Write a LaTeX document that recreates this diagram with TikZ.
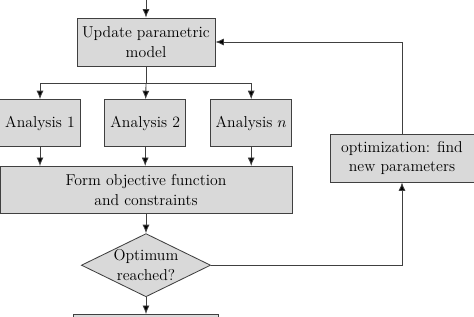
\documentclass[tikz,border=0pt]{standalone}
\usepackage{amsmath}
\usetikzlibrary{arrows.meta, positioning, shapes.geometric}

\begin{document}
\begin{tikzpicture}[
  every node/.style={font=\fontsize{11.2}{13.8}\selectfont},
  bx/.style={draw=black!75, line width=0.6pt, fill=black!15, align=center, inner sep=2pt},
  dm/.style={diamond, aspect=2, draw=black!75, line width=0.6pt, fill=black!15, align=center, inner sep=-2pt, minimum width=3.23cm, minimum height=1.58cm},
  a/.style={-{Latex[length=6pt,width=5pt,fill=black]}, draw=black!75, line width=0.6pt},
  l/.style={draw=black!75, line width=0.6pt}]
\useasboundingbox (0,0) rectangle (11.85,-7.9);
\coordinate (in) at (3.65,0);
\node[bx, minimum width=3.45cm, minimum height=1.2cm] (upd) at (3.65,-1.05) {Update parametric\\model};
\node[bx, minimum width=2.03cm, minimum height=1.18cm] (an1) at (1.0,-3.08) {Analysis 1};
\node[bx, minimum width=2.03cm, minimum height=1.18cm] (an2) at (3.63,-3.08) {Analysis 2};
\node[bx, minimum width=2.03cm, minimum height=1.18cm] (ann) at (6.28,-3.08) {Analysis $n$};
\node[bx, minimum width=7.3cm, minimum height=1.18cm] (obj) at (3.65,-4.75) {Form objective function\\and constraints};
\node[dm] (opt) at (3.65,-6.63) {Optimum\\reached?};
\node[bx, minimum width=3.63cm, minimum height=1.2cm, anchor=north] (nxt) at (3.65,-7.85) {};
\node[bx, minimum width=3.6cm, minimum height=1.2cm] (fnd) at (10.05,-3.95) {optimization: find\\new parameters};
\coordinate (bus) at (3.65,-2.08);
\draw[a] (in) -- (upd);
\draw[l] (upd) -- (bus);
\draw[a] (bus) -- (an2);
\draw[a] (bus) -| (an1);
\draw[a] (bus) -| (ann);
\draw[a] (an1) -- (an1 |- obj.north);
\draw[a] (an2) -- (an2 |- obj.north);
\draw[a] (ann) -- (ann |- obj.north);
\draw[a] (obj) -- (opt);
\draw[a] (opt) -- (nxt);
\draw[a] (opt.east) -| (fnd.south);
\draw[a] (fnd.north) |- (upd.east);
\end{tikzpicture}
\end{document}
